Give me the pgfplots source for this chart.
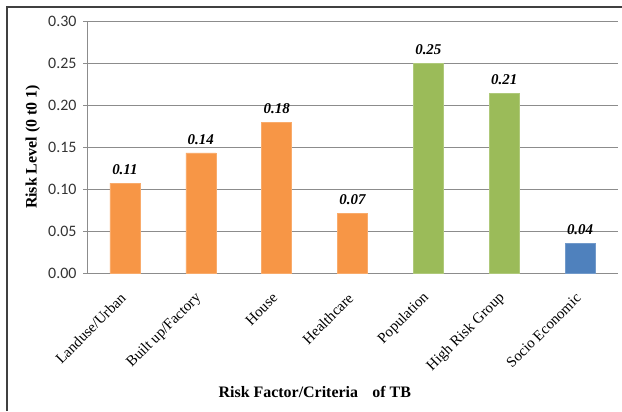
\documentclass[border=0pt]{standalone}
\usepackage{fontspec}
\setmainfont{Liberation Serif}
\newfontfamily\calibri{Carlito}
\usepackage{pgfplots}
\pgfplotsset{compat=1.18}
\definecolor{barorange}{HTML}{F79646}
\definecolor{bargreen}{HTML}{9BBB59}
\definecolor{barblue}{HTML}{4F81BD}
\definecolor{gridgray}{HTML}{8C8C8C}
\begin{document}
\begin{tikzpicture}[x=1bp,y=1bp]
\path[use as bounding box] (0,0) rectangle (622,411);
\draw[draw=black!75, line width=1.3bp] (7,0) -- (7,404) -- (622,404);
\begin{axis}[
  at={(87bp,138bp)}, anchor=south west,
  scale only axis, width=531bp, height=252bp,
  xmin=-0.5, xmax=6.5, ymin=0, ymax=0.30,
  axis x line*=bottom, axis y line*=left,
  axis line style={draw=gridgray, -},
  ytick={0,0.05,...,0.30},
  yticklabel style={font=\calibri\fontsize{16}{16}\selectfont, text=black!80, xshift=-3bp,
    /pgf/number format/fixed, /pgf/number format/zerofill, /pgf/number format/precision=2},
  /pgf/number format/assume math mode=true,
  ymajorgrids, grid style={draw=gridgray, line width=0.6bp},
  tick align=outside, major tick length=4bp,
  xtick={0,1,2,3,4,5,6},
  xtick style={draw=none},
  ytick style={draw=gridgray},
  xticklabels={Landuse/Urban, Built up/Factory, House, Healthcare, Population, High Risk Group, Socio Economic},
  xticklabel style={font=\fontsize{15}{15}\selectfont, rotate=45, anchor=east, xshift=-11bp, yshift=-12bp},
  ybar, bar width=30bp, bar shift=0pt,
  nodes near coords,
  nodes near coords style={font=\bfseries\itshape\fontsize{15}{15}\selectfont, text=black,
    /pgf/number format/fixed, /pgf/number format/zerofill, /pgf/number format/precision=2, yshift=5bp},
  ylabel={\bfseries Risk Level (0 t0 1)},
  ylabel style={font=\fontsize{16}{16}\selectfont, at={(axis description cs:-0.102,0.5)}, anchor=center},
  xlabel={\bfseries Risk Factor/Criteria\hspace{0.9em}of TB},
  xlabel style={font=\fontsize{16}{16}\selectfont, at={(axis description cs:0.429,-0.472)}, anchor=center},
  clip=false,
]
\addplot[fill=barorange, draw=barorange!80!white] coordinates {(0,0.107) (1,0.143) (2,0.179) (3,0.0714)};
\addplot[fill=bargreen, draw=bargreen!80!white] coordinates {(4,0.250) (5,0.214)};
\addplot[fill=barblue, draw=barblue!80!white] coordinates {(6,0.036)};
\end{axis}
\end{tikzpicture}
\end{document}
